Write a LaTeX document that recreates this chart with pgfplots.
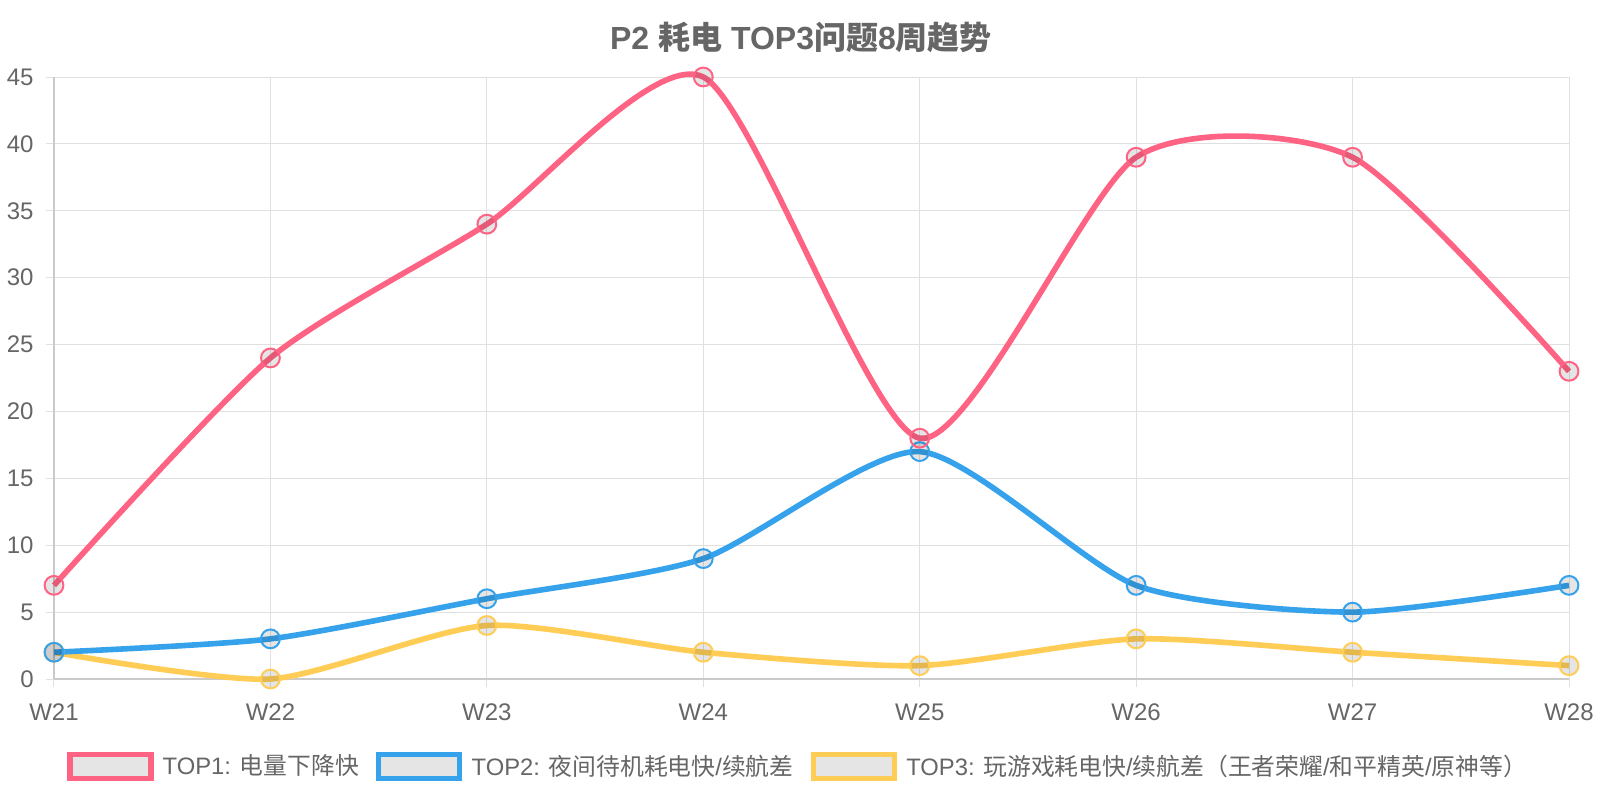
\documentclass[border=0pt]{standalone}
\usepackage{fontspec}
\setmainfont{Liberation Sans}
\newfontfamily\cjk{Noto Sans CJK SC}
\usepackage{pgfplots}
\pgfplotsset{compat=1.18}
\definecolor{txt}{HTML}{666666}
\definecolor{gridc}{HTML}{E0E0E0}
\definecolor{axc}{HTML}{CACACA}
\definecolor{c1}{RGB}{255,99,132}
\definecolor{c2}{RGB}{54,162,235}
\definecolor{c3}{RGB}{255,205,86}
\begin{document}
\begin{tikzpicture}
\useasboundingbox (0,0) rectangle (800pt,400pt);
\fill[white] (0,0) rectangle (800pt,400pt);
\node[font=\fontsize{16}{19}\selectfont\bfseries, text=txt, inner sep=0pt] at (400.5pt,381.1pt) {P2 {\cjk 耗电} TOP3{\cjk 问题}8{\cjk 周趋势}};
\begin{axis}[
  at={(27pt,60.5pt)}, anchor=south west,
  scale only axis, width=757.5pt, height=301pt,
  xmin=0, xmax=7, ymin=0, ymax=45,
  xtick={0,...,7}, xticklabels={W21,W22,W23,W24,W25,W26,W27,W28},
  ytick={0,5,...,45},
  grid=major, grid style={draw=gridc, line width=0.5pt},
  axis lines=left, axis line style={draw=axc, line width=0.8pt, -},
  tick align=outside, major tick length=4pt, tick style={draw=gridc, line width=0.5pt},
  ticklabel style={font=\fontsize{12}{14}\selectfont, text=txt},
  xticklabel style={anchor=north, inner sep=0pt, yshift=-8pt},
  yticklabel style={anchor=east, inner sep=0pt, xshift=-6pt},
  /pgf/number format/assume math mode=true,
  clip=false,
  legend columns=3,
  legend cell align=left,
  legend style={at={(0.4905,-0.1453)}, anchor=center, draw=none, fill=none,
    font=\fontsize{11.9}{14}\selectfont, text=txt, inner sep=0pt, outer sep=0pt,
    nodes={inner sep=0pt},
    /tikz/every odd column/.append style={column sep=4.6pt},
    /tikz/every even column/.append style={column sep=8.7pt}},
]
\addlegendimage{legend image code/.code={\draw[draw=c1, fill=black, fill opacity=0.1, line width=2.6pt] (0pt,-5.9pt) rectangle (40.5pt,5.9pt);}}
\addlegendentry{TOP1: {\cjk 电量下降快}}
\addlegendimage{legend image code/.code={\draw[draw=c2, fill=black, fill opacity=0.1, line width=2.6pt] (0pt,-5.9pt) rectangle (40.5pt,5.9pt);}}
\addlegendentry{TOP2: {\cjk 夜间待机耗电快}/{\cjk 续航差}}
\addlegendimage{legend image code/.code={\draw[draw=c3, fill=black, fill opacity=0.1, line width=2.6pt] (0pt,-5.9pt) rectangle (40.5pt,5.9pt);}}
\addlegendentry{TOP3: {\cjk 玩游戏耗电快}/{\cjk 续航差（王者荣耀}/{\cjk 和平精英}/{\cjk 原神等）}}
\addplot[c3, line width=2.8pt, smooth, tension=0.41, mark=*, mark size=4.7pt,
  mark options={draw=c3, fill=black, fill opacity=0.1, line width=1pt}, forget plot]
  coordinates {(0,2) (1,0) (2,4) (3,2) (4,1) (5,3) (6,2) (7,1)};
\addplot[c2, line width=2.8pt, smooth, tension=0.41, mark=*, mark size=4.7pt,
  mark options={draw=c2, fill=black, fill opacity=0.1, line width=1pt}, forget plot]
  coordinates {(0,2) (1,3) (2,6) (3,9) (4,17) (5,7) (6,5) (7,7)};
\addplot[c1, line width=2.8pt, smooth, tension=0.41, mark=*, mark size=4.7pt,
  mark options={draw=c1, fill=black, fill opacity=0.1, line width=1pt}, forget plot]
  coordinates {(0,7) (1,24) (2,34) (3,45) (4,18) (5,39) (6,39) (7,23)};
\end{axis}
\end{tikzpicture}
\end{document}
